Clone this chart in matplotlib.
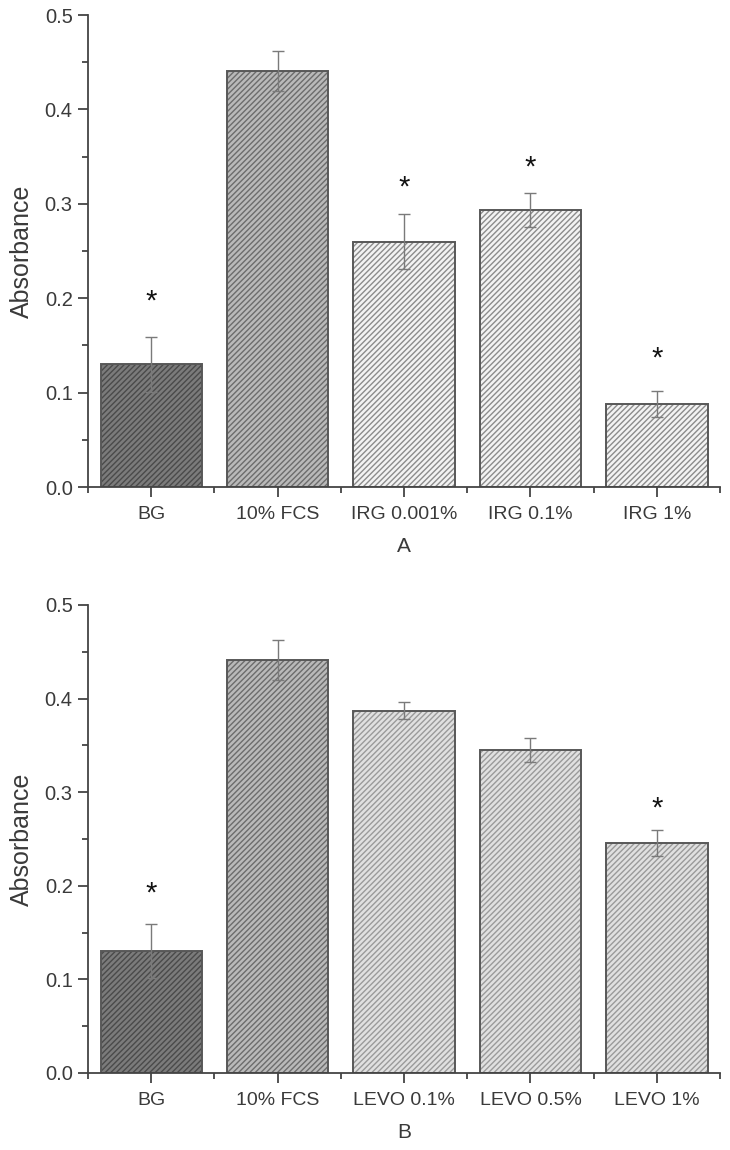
import matplotlib.pyplot as plt
from matplotlib.ticker import MultipleLocator

plt.rcParams['font.family'] = ['Liberation Sans', 'DejaVu Sans']
plt.rcParams['hatch.linewidth'] = 1.0

# panel A
labels_a = ["BG", "10% FCS", "IRG 0.001%", "IRG 0.1%", "IRG 1%"]
means_a = [0.130, 0.441, 0.260, 0.294, 0.088]
errs_a = [0.029, 0.021, 0.029, 0.018, 0.014]
stars_a = [0.196, None, 0.317, 0.338, 0.136]

# panel B
labels_b = ["BG", "10% FCS", "LEVO 0.1%", "LEVO 0.5%", "LEVO 1%"]
means_b = [0.130, 0.441, 0.387, 0.345, 0.246]
errs_b = [0.029, 0.021, 0.009, 0.013, 0.014]
stars_b = [0.192, None, None, None, 0.282]

fills_a = ["#7b7b7b", "#b9b9b9", "#f3f3f3", "#f3f3f3", "#f3f3f3"]
hatches_a = ["#4a4a4a", "#6c6c6c", "#8c8c8c", "#8c8c8c", "#8c8c8c"]
fills_b = ["#7b7b7b", "#b9b9b9", "#e0e0e0", "#e0e0e0", "#e0e0e0"]
hatches_b = ["#4a4a4a", "#6c6c6c", "#9a9a9a", "#9a9a9a", "#9a9a9a"]

text_col = "#3a3a3a"
axis_col = "#444444"


def draw_panel(ax, labels, means, errs, stars, fills, hcols, letter):
    x = list(range(len(labels)))
    # hatched fill (hatch drawn in edge colour), then a separate outline
    for xi, m, fc, hc in zip(x, means, fills, hcols):
        ax.bar(xi, m, width=0.8, color=fc, edgecolor=hc, hatch="//////", linewidth=0)
    ax.bar(x, means, width=0.8, fill=False, edgecolor="#585858", linewidth=1.4)
    ax.errorbar(x, means, yerr=errs, fmt="none", ecolor="#7a7a7a",
                elinewidth=1.0, capsize=4, capthick=1.0)
    for xi, s in zip(x, stars):
        if s is not None:
            ax.text(xi, s, "*", ha="center", va="center", fontsize=21, color="#111111")

    ax.set_xlim(-0.5, 4.5)
    ax.set_ylim(0, 0.5)
    ax.set_xticks(x)
    ax.set_xticklabels(labels)
    ax.xaxis.set_minor_locator(MultipleLocator(1, offset=0.5))
    ax.yaxis.set_major_locator(MultipleLocator(0.1))
    ax.yaxis.set_minor_locator(MultipleLocator(0.05))
    ax.yaxis.set_major_formatter(plt.FormatStrFormatter("%.1f"))

    for side in ["top", "right"]:
        ax.spines[side].set_visible(False)
    for side in ["left", "bottom"]:
        ax.spines[side].set_color(axis_col)
        ax.spines[side].set_linewidth(1.3)
    ax.tick_params(which="major", direction="out", length=7, width=1.3,
                   color=axis_col, labelcolor=text_col, pad=4)
    ax.tick_params(which="minor", direction="out", length=4.5, width=1.3, color=axis_col)
    ax.tick_params(axis="y", labelsize=14.5)
    ax.tick_params(axis="x", labelsize=14, pad=7)

    ax.set_ylabel("Absorbance", fontsize=18, color=text_col, labelpad=8)
    ax.set_xlabel(letter, fontsize=15, color=text_col, labelpad=10)


fig = plt.figure(figsize=(7.3, 11.5), dpi=100)
ax1 = fig.add_axes([0.1205, 0.5765, 0.866, 0.4104])
ax2 = fig.add_axes([0.1205, 0.067, 0.866, 0.407])

draw_panel(ax1, labels_a, means_a, errs_a, stars_a, fills_a, hatches_a, "A")
draw_panel(ax2, labels_b, means_b, errs_b, stars_b, fills_b, hatches_b, "B")

fig.savefig("out.png", dpi=100, facecolor="white")
